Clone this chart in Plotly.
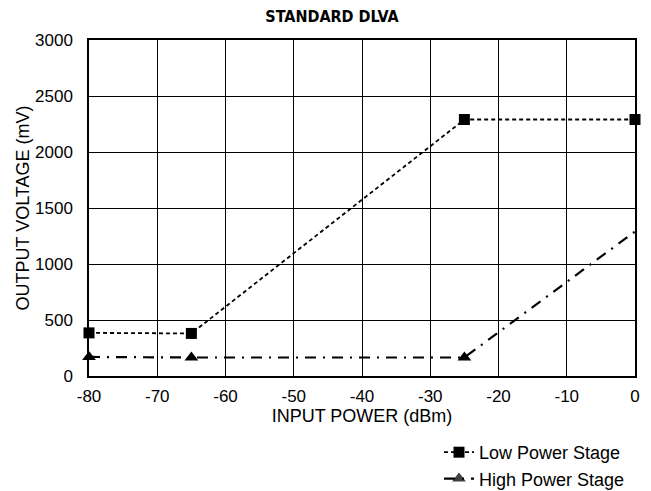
import plotly.graph_objects as go

x_low = [-80, -65, -25, 0]
y_low = [385, 380, 2290, 2290]
x_high = [-80, -65, -25, 0]
y_high = [170, 165, 165, 1290]
x_ticks = [-80, -70, -60, -50, -40, -30, -20, -10, 0]
y_ticks = [0, 500, 1000, 1500, 2000, 2500, 3000]

SANS = "Liberation Sans, Arial, sans-serif"
COND = "DejaVu Sans Condensed, Liberation Sans, Arial, sans-serif"

fig = go.Figure()
fig.add_trace(go.Scatter(
    x=x_low, y=y_low, mode="lines+markers", name="Low Power Stage",
    line=dict(color="black", width=1.8, dash="4px,3px"),
    marker=dict(symbol="square", size=11, color="black", line=dict(width=0)),
    cliponaxis=False,
))
fig.add_trace(go.Scatter(
    x=x_high, y=y_high, mode="lines+markers", name="High Power Stage",
    line=dict(color="black", width=2.2, dash="11px,7px,2px,7px"),
    marker=dict(symbol="triangle-up", size=12, color="black",
                opacity=[1, 1, 1, 0], line=dict(width=0)),
    cliponaxis=False,
))

fig.update_layout(
    width=651, height=491,
    margin=dict(l=89, r=16, t=40, b=115),
    paper_bgcolor="white", plot_bgcolor="white",
    font=dict(family=SANS, size=17, color="black"),
    title=dict(text="<b>STANDARD DLVA</b>", x=332 / 651, xref="container", xanchor="center",
               y=1 - 16.5 / 491, yref="container", yanchor="middle",
               font=dict(family=COND, size=16)),
    showlegend=True,
    legend=dict(x=0.641, xanchor="left", xref="paper",
                y=1 - 434 / 491, yref="container", yanchor="top",
                bgcolor="rgba(0,0,0,0)",
                font=dict(family=SANS, size=18), tracegroupgap=0),
)
fig.update_xaxes(
    range=[-80, 0], tickvals=x_ticks, ticktext=[str(v) for v in x_ticks],
    showgrid=True, gridcolor="black", gridwidth=1, zeroline=False,
    showline=True, linecolor="black", linewidth=1.5, mirror=True,
    ticks="", tickfont=dict(size=17), automargin=False, ticklabelstandoff=4,
    title=dict(text="INPUT POWER (dBm)", standoff=0, font=dict(size=18)),
)
fig.update_yaxes(
    range=[0, 3000], tickvals=y_ticks, ticktext=[str(v) for v in y_ticks],
    showgrid=True, gridcolor="black", gridwidth=1, zeroline=False,
    showline=True, linecolor="black", linewidth=1.5, mirror=True,
    ticks="", tickfont=dict(size=17), automargin=False, ticklabelstandoff=11,
    title=dict(text="OUTPUT VOLTAGE (mV)", standoff=1, font=dict(size=18)),
)

fig.write_html("out.html", config={"displayModeBar": False},
               post_script="document.body.style.margin='0';")
